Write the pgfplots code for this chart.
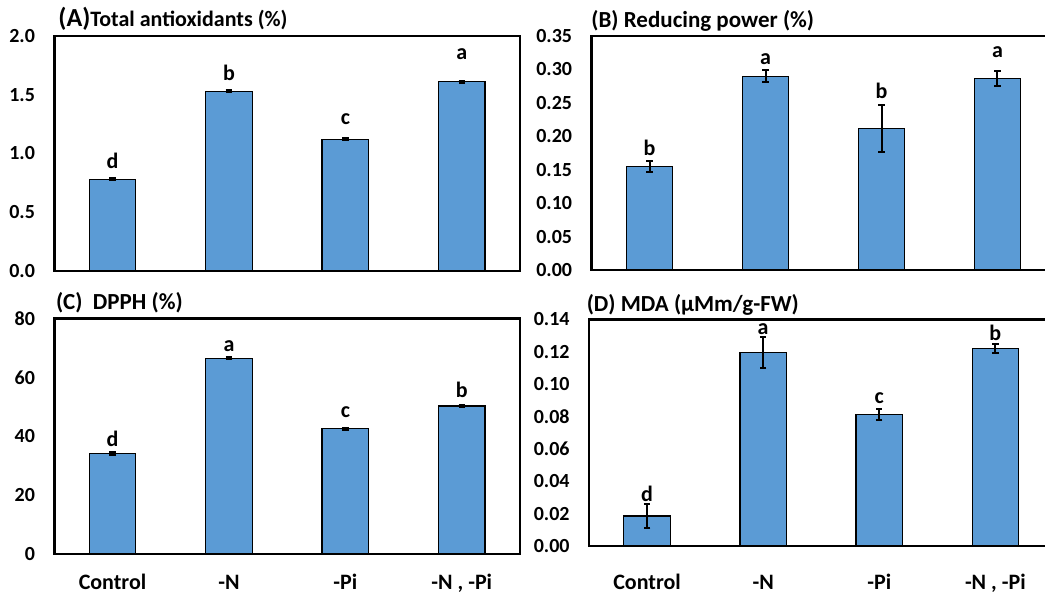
\documentclass[border=0pt]{standalone}
\usepackage{fontspec}
\setmainfont{Carlito}
\usepackage{pgfplots}
\pgfplotsset{compat=1.18}
\usepackage{pgfplotstable}

\definecolor{barblue}{RGB}{91,155,213}

% treatment means and standard errors
\pgfplotstableread{
x  y     e
0  0.78  0.008
1  1.53  0.008
2  1.12  0.008
3  1.61  0.008
}\totalanti
\pgfplotstableread{
x  y      e
0  0.155  0.0085
1  0.290  0.0088
2  0.2115 0.0350
3  0.286  0.0115
}\reducing
\pgfplotstableread{
x  y     e
0  34.2  0.4
1  66.5  0.4
2  42.5  0.4
3  50.3  0.4
}\dpph
\pgfplotstableread{
x  y       e
0  0.0185  0.0076
1  0.1195  0.0094
2  0.0813  0.0036
3  0.1223  0.0027
}\mda

\tikzset{
  sig/.style={anchor=base, inner sep=0pt, font=\fontsize{11}{13}\selectfont\bfseries},
}

\pgfplotsset{
  panel/.style={
    scale only axis,
    anchor=south west,
    xmin=-0.5, xmax=3.5,
    ymin=0,
    axis line style={line width=1.2pt, black},
    major tick length=0pt,
    clip=false,
    /pgf/number format/assume math mode=true,
    tick label style={font=\fontsize{10}{12}\selectfont\bfseries},
    yticklabel style={anchor=east, inner sep=0pt, xshift=-9.5pt,
      /pgf/number format/fixed, /pgf/number format/fixed zerofill},
    xticklabel style={anchor=base, inner sep=0pt,
      font=\fontsize{11}{13}\selectfont\bfseries},
    xtick=\empty,
  },
  bars/.style={
    ybar, bar width=0.4, bar shift=0pt,
    fill=barblue, draw=black, line width=0.6pt,
    error bars/.cd, y dir=both, y explicit,
    error bar style={line width=1pt, black},
    error mark options={rotate=90, mark size=1.6pt, line width=1pt, black},
  },
}

\begin{document}
\begin{tikzpicture}
\path[use as bounding box, clip] (0pt,0pt) rectangle (522.5pt,297pt);

% (A) total antioxidants
\begin{axis}[panel,
  at={(27.15pt,161.5pt)}, width=232.85pt, height=117.5pt,
  ymax=2, ytick={0,0.5,1,1.5,2},
  yticklabel style={/pgf/number format/precision=1}]
  \addplot[bars] table[x=x, y=y, y error=e] {\totalanti};
  \node[sig] at (axis cs:0,0.871) {d};
  \node[sig] at (axis cs:1,1.617) {b};
  \node[sig] at (axis cs:2,1.248) {c};
  \node[sig] at (axis cs:3,1.801) {a};
\end{axis}

% (B) reducing power
\begin{axis}[panel,
  at={(295.75pt,162pt)}, width=232pt, height=117pt,
  ymax=0.35, ytick={0,0.05,0.1,0.15,0.2,0.25,0.3,0.35},
  yticklabel style={/pgf/number format/precision=2}]
  \addplot[bars] table[x=x, y=y, y error=e] {\reducing};
  \node[sig] at (axis cs:0,0.171) {b};
  \node[sig] at (axis cs:1,0.3075) {a};
  \node[sig] at (axis cs:2,0.256) {b};
  \node[sig] at (axis cs:3,0.3175) {a};
\end{axis}

% (C) DPPH
\begin{axis}[panel,
  at={(27.15pt,20pt)}, width=232.85pt, height=117.75pt,
  ymax=80, ytick={0,20,40,60,80},
  yticklabel style={/pgf/number format/precision=0},
  xtick={0,1,2,3}, xticklabels={Control,-N,-Pi,{-N , -Pi}},
  xticklabel style={yshift=-18pt}]
  \addplot[bars] table[x=x, y=y, y error=e] {\dpph};
  \node[sig] at (axis cs:0,36.65) {d};
  \node[sig] at (axis cs:1,68.65) {a};
  \node[sig] at (axis cs:2,46.3) {c};
  \node[sig] at (axis cs:3,53.1) {b};
\end{axis}

% (D) MDA
\begin{axis}[panel,
  at={(294.5pt,24pt)}, width=232.2pt, height=113.25pt,
  ymax=0.14, ytick={0,0.02,0.04,0.06,0.08,0.1,0.12,0.14},
  yticklabel style={/pgf/number format/precision=2},
  xtick={0,1,2,3}, xticklabels={Control,-N,-Pi,{-N , -Pi}},
  xticklabel style={yshift=-22pt}]
  \addplot[bars] table[x=x, y=y, y error=e] {\mda};
  \node[sig] at (axis cs:0,0.0277) {d};
  \node[sig] at (axis cs:1,0.1308) {a};
  \node[sig] at (axis cs:2,0.0883) {c};
  \node[sig] at (axis cs:3,0.1273) {b};
\end{axis}

% panel titles
\node[anchor=base west, inner sep=0pt, font=\bfseries] at (29pt,283.5pt)
  {{\fontsize{13}{15}\selectfont (A)}{\fontsize{11}{13}\selectfont Total antioxidants (\%)}};
\node[anchor=base west, inner sep=0pt, font=\fontsize{11.5}{13}\selectfont\bfseries] at (295.5pt,283.25pt)
  {(B) Reducing power (\%)};
\node[anchor=base west, inner sep=0pt, font=\fontsize{11.5}{13}\selectfont\bfseries] at (27.8pt,142pt)
  {(C)\ \ DPPH (\%)};
\node[anchor=base west, inner sep=0pt, font=\fontsize{11.5}{13}\selectfont\bfseries] at (293.2pt,141.25pt)
  {(D) MDA (µMm/g-FW)};
\end{tikzpicture}
\end{document}
